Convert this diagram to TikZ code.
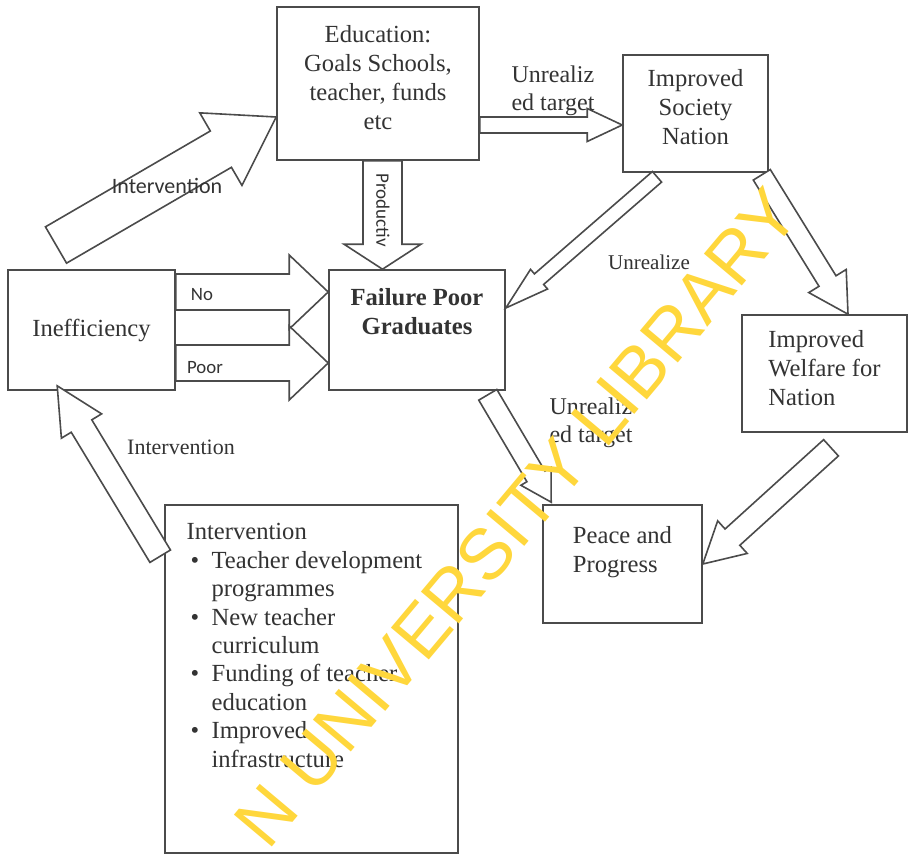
\documentclass[tikz,border=0pt]{standalone}
\usepackage{fontspec}
\setmainfont{Liberation Serif}
\setsansfont{Liberation Sans}
\newfontfamily\calib{Carlito}
\usepackage{tikz}
\usetikzlibrary{calc,positioning}
\usepackage{xcolor}
\definecolor{inkgray}{RGB}{75,75,75}
\definecolor{wmyellow}{RGB}{255,215,60}
\newcommand\boxfnt{\fontsize{12.3}{14.5}\selectfont}

\tikzset{
	box/.style={draw=inkgray, line width=0.8pt, inner sep=0pt, text=black!80, font=\boxfnt},
	fat/.style n args={3}{draw=inkgray, fill=white, line width=0.8pt, line join=miter,
		to path={
			($(\tikztostart)!#1!90:(\tikztotarget)$)
			-- ($(\tikztotarget)!#3!(\tikztostart)!#1!-90:(\tikztostart)$)
			-- ($(\tikztotarget)!#3!(\tikztostart)!#2!-90:(\tikztostart)$)
			-- (\tikztotarget)
			-- ($(\tikztotarget)!#3!(\tikztostart)!#2!90:(\tikztostart)$)
			-- ($(\tikztotarget)!#3!(\tikztostart)!#1!90:(\tikztostart)$)
			-- ($(\tikztostart)!#1!-90:(\tikztotarget)$)
			-- cycle}},
	lbl/.style={inner sep=0pt, text=black!80, font=\calib\fontsize{11}{13}\selectfont},
	tlbl/.style={inner sep=0pt, text=black!80, align=left, font=\fontsize{12}{14}\selectfont}
}

\begin{document}
\begin{tikzpicture}[x=0.5pt, y=-0.5pt]

	\path[fill=white] (0,0) rectangle (909,856);
	\useasboundingbox (0,0) rectangle (909,856);

	\node[box, minimum width=101pt, minimum height=76.5pt, align=center] (edu) at (378,83.5) {Education:\\Goals Schools,\\teacher, funds\\etc\\[-8pt]\mbox{}};
	\node[box, minimum width=72.5pt, minimum height=58.5pt, align=center] (soc) at (695.5,113.5) {Improved\\Society\\Nation\\[-8pt]\mbox{}};
	\node[box, minimum width=83.5pt, minimum height=60pt] (ineff) at (91.5,330) {Inefficiency};
	\node[box, minimum width=88pt, minimum height=60pt, align=center, font=\boxfnt\bfseries] (fail) at (417,330) {Failure Poor\\Graduates\\[4.5pt]\mbox{}};
	\node[box, minimum width=82.5pt, minimum height=58.5pt, align=left] (welf) at (824.5,373.5) {Improved\\Welfare for\\Nation\\[-9pt]\mbox{}};
	\node[box, minimum width=79.5pt, minimum height=59pt, align=left] (peace) at (622.5,564) {Peace and\\Progress\\\mbox{}};
	\node[box, minimum width=146.5pt, minimum height=174pt] (ivbox) at (311.5,679) {};
	\node[anchor=north west, align=left, inner sep=0pt, text=black!80, font=\fontsize{12.3}{14.2}\selectfont] (ivtext) at ([shift={(11pt,-9.5pt)}]ivbox.north west) {Intervention\\
		\hspace*{2pt}\makebox[10.5pt][l]{\textbullet}Teacher development\\
		\hspace*{12.5pt}programmes\\
		\hspace*{2pt}\makebox[10.5pt][l]{\textbullet}New teacher\\
		\hspace*{12.5pt}curriculum\\
		\hspace*{2pt}\makebox[10.5pt][l]{\textbullet}Funding of teacher\\
		\hspace*{12.5pt}education\\
		\hspace*{2pt}\makebox[10.5pt][l]{\textbullet}Improved\\
		\hspace*{12.5pt}infrastructure};

	\coordinate (ivup) at (56,245);
	\draw[fat={10.5pt}{21pt}{32pt}] (ivup) to ([yshift=-16.75pt]edu.west);
	\node[lbl] (ivuplbl) at (167,186) {Intervention};

	\draw[fat={9pt}{18.5pt}{19.5pt}] ([yshift=19pt]ineff.east) to ([yshift=19pt]fail.west);
	\draw[fat={9pt}{18.5pt}{19.5pt}] ([yshift=-16.5pt]ineff.east) to ([yshift=-16.5pt]fail.west);
	\node[lbl, font=\calib\fontsize{9.4}{11}\selectfont] (nolbl) at (202,295) {No};
	\node[lbl, font=\calib\fontsize{9.4}{11}\selectfont] (poorlbl) at (205,368) {Poor};

	\coordinate (prod) at ([xshift=2.25pt]edu.south);
	\draw[fat={9.75pt}{19.25pt}{12.5pt}] (prod) to (prod |- fail.north);
	\node[lbl, rotate=-90, font=\calib\fontsize{9.5}{11}\selectfont] (prodlbl) at (383,210) {Productiv};

	\coordinate (utg) at ([yshift=-20.75pt]edu.east);
	\draw[fat={4pt}{8.25pt}{17.5pt}] (utg) to (utg -| soc.west);
	\node[tlbl] (utlbl) at (553,91) {Unrealiz\\ed target};

	\draw[fat={3.5pt}{6.5pt}{22pt}] ([xshift=-19.25pt,yshift=-2pt]soc.south) to ([yshift=11pt]fail.east);
	\node[tlbl, font=\fontsize{10.5}{12}\selectfont] (unlbl) at (649,262) {Unrealize};

	\draw[fat={5pt}{11pt}{19.5pt}] ([xshift=-3.5pt,yshift=-1pt]soc.south east) to ([xshift=11.75pt]welf.north);

	\draw[fat={5.25pt}{8.75pt}{15pt}] ([xshift=-9pt,yshift=-2pt]fail.south east) to ([xshift=4.5pt,yshift=1pt]peace.north west);
	\node[tlbl] (ut2lbl) at (591,423) {Unrealiz\\ed target};

	\draw[fat={5.5pt}{11pt}{20pt}] ([xshift=3.25pt,yshift=-7.5pt]welf.south) to (peace.east);

	\draw[fat={6pt}{11.75pt}{23.5pt}] ([xshift=-2pt,yshift=-26pt]ivbox.north west) to ([xshift=25pt,yshift=2.5pt]ineff.south west);
	\node[tlbl, font=\fontsize{11}{13}\selectfont] (ivlbl) at (181,447) {Intervention};

	\node[rotate=50, anchor=base west, inner sep=0pt, text=wmyellow, font=\sffamily\fontsize{36}{38}\selectfont] (wmark) at (268,852) {N UNIVERSITY LIBRARY};

\end{tikzpicture}
\end{document}
